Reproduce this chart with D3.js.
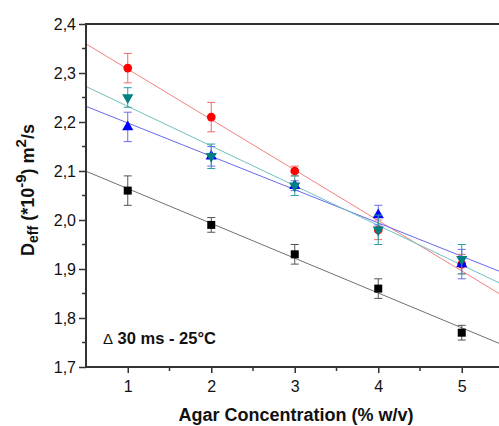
<!DOCTYPE html>
<html><head><meta charset="utf-8">
<script src="https://cdn.jsdelivr.net/npm/d3@7"></script>
<style>body{margin:0;background:#fff}svg{display:block}text{font-family:"Liberation Sans",Arial,sans-serif}</style>
</head><body>
<svg id="c" width="499" height="426"></svg>
<script>
const concentrations = [1, 2, 3, 4, 5];
const seriesNames = ["black", "red", "blue", "teal"];
const blackValues = [2.06, 1.99, 1.93, 1.86, 1.77];
const blackErrors = [0.03, 0.015, 0.02, 0.02, 0.015];
const redValues = [2.31, 2.21, 2.10, 1.98, 1.91];
const redErrors = [0.03, 0.03, 0.01, 0.02, 0.02];
const blueValues = [2.19, 2.13, 2.07, 2.01, 1.91];
const blueErrors = [0.03, 0.02, 0.01, 0.02, 0.03];
const tealValues = [2.25, 2.13, 2.07, 1.98, 1.92];
const tealErrors = [0.02, 0.025, 0.02, 0.03, 0.03];
const yTicks = [1.7, 1.8, 1.9, 2.0, 2.1, 2.2, 2.3, 2.4];
const xTicks = [1, 2, 3, 4, 5];

const styles = {
  black: {mark: "#000", line: "#707070", err: "#555", shape: d3.symbolSquare, size: 64, rot: 0},
  red:   {mark: "#ff0000", line: "#f48080", err: "#f06a6a", shape: d3.symbolCircle, size: 60, rot: 0},
  blue:  {mark: "#0000ff", line: "#6868f0", err: "#6b6bf0", shape: d3.symbolTriangle, size: 55, rot: 0},
  teal:  {mark: "#008080", line: "#70c0c0", err: "#2a9f9f", shape: d3.symbolTriangle, size: 55, rot: 180}
};
const data = {
  black: {v: blackValues, e: blackErrors},
  red: {v: redValues, e: redErrors},
  blue: {v: blueValues, e: blueErrors},
  teal: {v: tealValues, e: tealErrors}
};

const L = 86, T = 24, B = 367, R = 503.5;
const x = d3.scaleLinear().domain([0.5, 5.5]).range([L, R]);
const y = d3.scaleLinear().domain([1.7, 2.4]).range([B, T]);
const fmt = d => d3.format(".1f")(d).replace(".", ",");

const svg = d3.select("#c");
svg.append("defs").append("clipPath").attr("id", "clip")
  .append("rect").attr("x", L).attr("y", T).attr("width", R - L).attr("height", B - T);

const plot = svg.append("g").attr("clip-path", "url(#clip)");

function fit(vals) {
  const mx = d3.mean(concentrations), my = d3.mean(vals);
  let num = 0, den = 0;
  concentrations.forEach((c, i) => { num += (c - mx) * (vals[i] - my); den += (c - mx) ** 2; });
  const b = num / den, a = my - b * mx;
  return c => a + b * c;
}

// fit lines
seriesNames.forEach(n => {
  const f = fit(data[n].v);
  const dom = x.domain();
  plot.append("line")
    .attr("x1", x(dom[0])).attr("y1", y(f(dom[0])))
    .attr("x2", x(dom[1])).attr("y2", y(f(dom[1])))
    .attr("stroke", styles[n].line).attr("stroke-width", 1);
});

// error bars and markers
seriesNames.forEach(n => {
  const s = styles[n], g = plot.append("g");
  concentrations.forEach((c, i) => {
    const v = data[n].v[i], e = data[n].e[i];
    const cx = x(c);
    g.append("line").attr("x1", cx).attr("x2", cx).attr("y1", y(v - e)).attr("y2", y(v + e))
      .attr("stroke", s.err).attr("stroke-width", 1);
    [v - e, v + e].forEach(t => g.append("line").attr("x1", cx - 4).attr("x2", cx + 4)
      .attr("y1", y(t)).attr("y2", y(t)).attr("stroke", s.err).attr("stroke-width", 1));
  });
  concentrations.forEach((c, i) => {
    g.append("path").attr("d", d3.symbol().type(s.shape).size(s.size)())
      .attr("transform", `translate(${x(c)},${y(data[n].v[i])}) rotate(${s.rot})`)
      .attr("fill", s.mark);
  });
});

// axes
const axisColor = "#333";
const yAxis = svg.append("g").attr("transform", `translate(${L},0)`)
  .call(d3.axisLeft(y).tickValues(yTicks).tickFormat(fmt).tickSize(7).tickPadding(3));
const xAxis = svg.append("g").attr("transform", `translate(0,${B})`)
  .call(d3.axisBottom(x).tickValues(xTicks).tickFormat(d3.format("d")).tickSize(6).tickPadding(8));
[yAxis, xAxis].forEach(a => {
  a.select(".domain").remove();
  a.selectAll("line").attr("stroke", axisColor).attr("stroke-width", 1.5);
  a.selectAll("text").attr("font-size", 16).attr("fill", "#111")
    .attr("font-family", '"Liberation Sans", Arial, sans-serif');
});
// minor ticks
const yMinor = yTicks.slice(0, -1).map(v => v + 0.05);
svg.append("g").selectAll("line").data(yMinor).join("line")
  .attr("x1", L - 4).attr("x2", L).attr("y1", d => y(d)).attr("y2", d => y(d))
  .attr("stroke", axisColor).attr("stroke-width", 1.5);
const xMinor = [1.5, 2.5, 3.5, 4.5];
svg.append("g").selectAll("line").data(xMinor).join("line")
  .attr("x1", d => x(d)).attr("x2", d => x(d)).attr("y1", B).attr("y2", B + 4)
  .attr("stroke", axisColor).attr("stroke-width", 1.5);

// frame lines
svg.append("line").attr("x1", L).attr("x2", L).attr("y1", T - 1).attr("y2", B + 1)
  .attr("stroke", axisColor).attr("stroke-width", 2);
svg.append("line").attr("x1", L).attr("x2", 499).attr("y1", B).attr("y2", B)
  .attr("stroke", axisColor).attr("stroke-width", 2);
svg.append("line").attr("x1", L).attr("x2", 499).attr("y1", T).attr("y2", T)
  .attr("stroke", axisColor).attr("stroke-width", 2);

// annotation
const ann = svg.append("text").attr("x", 103).attr("y", 344)
  .attr("font-size", 16.5).attr("font-weight", "bold").attr("fill", "#111");
ann.append("tspan").attr("font-weight", "normal").attr("font-size", 15).text("Δ");
ann.append("tspan").text(" 30 ms - 25°C");

// x label
svg.append("text").attr("x", 296).attr("y", 421).attr("text-anchor", "middle")
  .attr("font-size", 18).attr("font-weight", "bold").attr("fill", "#111")
  .text("Agar Concentration (% w/v)");

// y label
const yl = svg.append("text").attr("transform", "translate(34,190) rotate(-90)")
  .attr("text-anchor", "middle").attr("font-size", 18).attr("font-weight", "bold").attr("fill", "#111");
yl.append("tspan").text("D");
yl.append("tspan").attr("font-size", 14).attr("dy", 4).text("eff");
yl.append("tspan").attr("dy", -4).text(" (*10");
yl.append("tspan").attr("font-size", 15).attr("dy", -8).text("-9");
yl.append("tspan").attr("dy", 8).text(") m");
yl.append("tspan").attr("font-size", 15).attr("dy", -8).text("2");
yl.append("tspan").attr("dy", 8).text("/s");
</script>
</body></html>
